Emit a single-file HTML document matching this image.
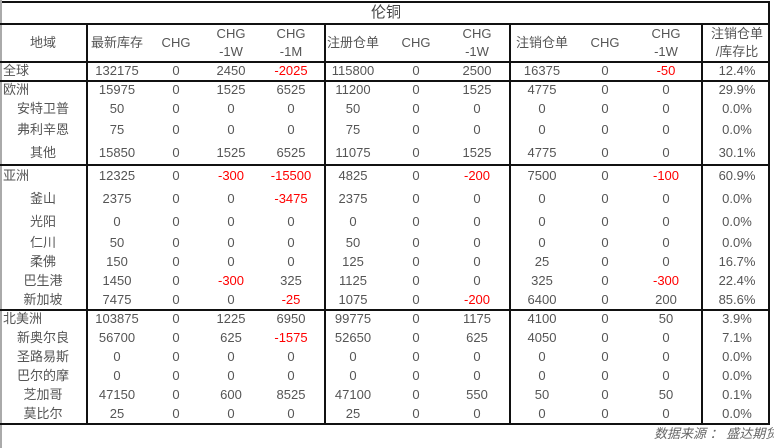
<!DOCTYPE html>
<html><head><meta charset="utf-8"><style>
body{margin:0;width:774px;height:448px;background:#fff;position:relative;overflow:hidden;font-family:"Liberation Sans","Noto Sans CJK SC",sans-serif;font-size:13px;color:#555}
.t{position:absolute;white-space:nowrap;transform:translate(-50%,-50%);line-height:14px}
.l{transform:translate(0,-50%)}
.r{color:#f00}
.h{position:absolute;height:2px;background:#111}
.v{position:absolute;width:2px;background:#111}
</style></head><body>
<div class="v" style="left:0;top:0;height:448px;width:2px;background:#aaa"></div>
<div class="h" style="left:2px;top:1px;width:768px"></div>
<div class="v" style="left:768px;top:1px;height:424px"></div>
<div class="h" style="left:0;top:23px;width:770px"></div>
<div class="h" style="left:0;top:61px;width:770px"></div>
<div class="h" style="left:0;top:80px;width:770px"></div>
<div class="h" style="left:0;top:164px;width:770px"></div>
<div class="h" style="left:0;top:309px;width:770px"></div>
<div class="h" style="left:0;top:423px;width:770px"></div>
<div class="v" style="left:86px;top:24px;height:400px"></div>
<div class="v" style="left:324px;top:24px;height:400px"></div>
<div class="v" style="left:509px;top:24px;height:400px"></div>
<div class="v" style="left:701px;top:24px;height:400px"></div>
<div class="t" style="left:386px;top:13px;font-size:15px;color:#444">伦铜</div>
<div id="hdr"></div>
<div id="body"></div>
<div class="t l" style="left:654px;top:434px;font-style:italic;color:#666">数据来源 ： 盛达期货</div>
<script>
const colX=[0,117,176,231,291,353,416,477,542,605,666,737];
const headers=[["地域"],["最新库存"],["CHG"],["CHG","-1W"],["CHG","-1M"],["注册仓单"],["CHG"],["CHG","-1W"],["注销仓单"],["CHG"],["CHG","-1W"],["注销仓单","/库存比"]];
const rowY=[71,90,109,130,153,176,199,222,243,262,281,300,319,338,357,376,395,414];
const regions=["全球","欧洲","安特卫普","弗利辛恩","其他","亚洲","釜山","光阳","仁川","柔佛","巴生港","新加坡","北美洲","新奥尔良","圣路易斯","巴尔的摩","芝加哥","莫比尔"];
const isTop=[1,1,0,0,0,1,0,0,0,0,0,0,1,0,0,0,0,0];
const values=[
[132175,0,2450,-2025,115800,0,2500,16375,0,-50,"12.4%"],
[15975,0,1525,6525,11200,0,1525,4775,0,0,"29.9%"],
[50,0,0,0,50,0,0,0,0,0,"0.0%"],
[75,0,0,0,75,0,0,0,0,0,"0.0%"],
[15850,0,1525,6525,11075,0,1525,4775,0,0,"30.1%"],
[12325,0,-300,-15500,4825,0,-200,7500,0,-100,"60.9%"],
[2375,0,0,-3475,2375,0,0,0,0,0,"0.0%"],
[0,0,0,0,0,0,0,0,0,0,"0.0%"],
[50,0,0,0,50,0,0,0,0,0,"0.0%"],
[150,0,0,0,125,0,0,25,0,0,"16.7%"],
[1450,0,-300,325,1125,0,0,325,0,-300,"22.4%"],
[7475,0,0,-25,1075,0,-200,6400,0,200,"85.6%"],
[103875,0,1225,6950,99775,0,1175,4100,0,50,"3.9%"],
[56700,0,625,-1575,52650,0,625,4050,0,0,"7.1%"],
[0,0,0,0,0,0,0,0,0,0,"0.0%"],
[0,0,0,0,0,0,0,0,0,0,"0.0%"],
[47150,0,600,8525,47100,0,550,50,0,50,"0.1%"],
[25,0,0,0,25,0,0,0,0,0,"0.0%"]];
function mk(p,txt,x,y,cls,name){const d=document.createElement('div');d.className='t '+(cls||'');d.style.left=x+'px';d.style.top=y+'px';d.textContent=txt;


p.appendChild(d);}
const H=document.getElementById('hdr'),B=document.getElementById('body');
headers.forEach((h,i)=>{const x=i===0?43:colX[i];
if(h.length===1)mk(H,h[0],x,43,'','header-'+i);else{mk(H,h[0],x,34,'','header-'+i+'-line1');mk(H,h[1],x,52,'','header-'+i+'-line2');}});
regions.forEach((r,i)=>{const y=rowY[i];
if(isTop[i])mk(B,r,3,y,'l','region-'+i);else mk(B,r,43,y,'','region-'+i);
values[i].forEach((v,j)=>{mk(B,String(v),colX[j+1],y,(typeof v==='number'&&v<0)?'r':'','cell-'+i+'-'+j);});});
</script>
</body></html>
